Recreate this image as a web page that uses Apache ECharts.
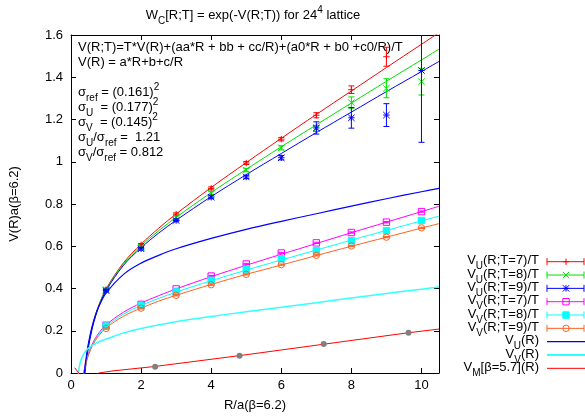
<!DOCTYPE html>
<html>
<head>
<meta charset="utf-8">
<script src="https://cdn.jsdelivr.net/npm/echarts@6/dist/echarts.min.js"></script>
<style>
  html, body { margin: 0; padding: 0; background: #fff; }
  #chart { width: 585px; height: 417px; }
</style>
</head>
<body>
<div id="chart"></div>
<script>
const FONT = '"Liberation Sans", Arial, Helvetica, sans-serif';

// ---- axis ticks ----
const xTicks = [0, 2, 4, 6, 8, 10];
const yTicks = [0, 0.2, 0.4, 0.6, 0.8, 1, 1.2, 1.4, 1.6];

// ---- measured potentials, R in units of a(beta=6.2) ----
const rValues = [1, 2, 3, 4, 5, 6, 7, 8, 9, 10];

const vuT7    = [0.395, 0.607, 0.752, 0.874, 0.994, 1.107, 1.220, 1.341, 1.497, null];
const vuT7Err = [0.006, 0.006, 0.006, 0.007, 0.007, 0.008, 0.012, 0.018, 0.045, 0];
const vuT8    = [0.395, 0.596, 0.737, 0.851, 0.961, 1.066, 1.157, 1.280, 1.348, 1.379];
const vuT8Err = [0.005, 0.006, 0.006, 0.007, 0.008, 0.010, 0.014, 0.027, 0.045, 0.063];
const vuT9    = [0.390, 0.588, 0.722, 0.832, 0.928, 1.019, 1.160, 1.208, 1.221, 1.432];
const vuT9Err = [0.006, 0.006, 0.006, 0.007, 0.008, 0.010, 0.029, 0.049, 0.054, 0.340];

const vvT7    = [0.226, 0.325, 0.398, 0.459, 0.516, 0.568, 0.616, 0.665, 0.714, 0.764];
const vvT8    = [0.222, 0.318, 0.384, 0.439, 0.491, 0.541, 0.580, 0.626, 0.673, 0.722];
const vvT9    = [0.211, 0.307, 0.368, 0.418, 0.467, 0.513, 0.557, 0.601, 0.643, 0.687];
const vvErr   = [0.003, 0.003, 0.003, 0.003, 0.003, 0.003, 0.003, 0.003, 0.003, 0.003];

// beta = 5.7 potential, rescaled to the beta = 6.2 lattice spacing
const rBeta57 = [2.40, 4.81, 7.21, 9.63];
const vBeta57 = [0.030, 0.082, 0.137, 0.190];

// ---- fitted curves ----
const fitR    = [0.3, 0.4, 0.45, 0.5, 0.6, 0.7, 0.8, 1, 1.5, 2, 2.5, 3, 4, 5, 6, 7, 8, 9, 10, 10.5];
const fitUT7  = [-0.166, 0.020, 0.083, 0.135, 0.216, 0.276, 0.324, 0.398, 0.522, 0.610, 0.685, 0.753, 0.878, 0.996, 1.111, 1.224, 1.335, 1.446, 1.556, 1.611];
const fitUT8  = [-0.176, 0.013, 0.078, 0.131, 0.213, 0.273, 0.321, 0.395, 0.517, 0.602, 0.673, 0.737, 0.854, 0.964, 1.071, 1.175, 1.278, 1.381, 1.482, 1.533];
const fitUT9  = [-0.188, 0.004, 0.070, 0.124, 0.206, 0.268, 0.317, 0.390, 0.510, 0.593, 0.662, 0.723, 0.835, 0.939, 1.039, 1.138, 1.235, 1.332, 1.427, 1.475];
const fitVT7  = [-0.060, 0.035, 0.068, 0.094, 0.135, 0.166, 0.191, 0.228, 0.288, 0.331, 0.366, 0.398, 0.456, 0.510, 0.562, 0.613, 0.664, 0.714, 0.764, 0.789];
const fitVT8  = [-0.070, 0.027, 0.060, 0.087, 0.128, 0.159, 0.184, 0.220, 0.279, 0.320, 0.353, 0.383, 0.437, 0.487, 0.535, 0.582, 0.629, 0.675, 0.720, 0.743];
const fitVT9  = [-0.066, 0.027, 0.059, 0.085, 0.125, 0.155, 0.178, 0.213, 0.269, 0.307, 0.340, 0.368, 0.419, 0.467, 0.511, 0.556, 0.600, 0.643, 0.686, 0.707];
const fitVU   = [-0.157, 0.030, 0.092, 0.143, 0.219, 0.275, 0.317, 0.378, 0.467, 0.520, 0.557, 0.588, 0.637, 0.680, 0.718, 0.754, 0.790, 0.825, 0.858, 0.874];

const fitVVR  = [0.18, 0.21, 0.25, 0.3, 0.4, 0.5, 0.6, 0.8, 1, 1.5, 2, 3, 4, 5, 6, 7, 8, 9, 10, 10.5];
const fitVV   = [-0.050, 0.000, 0.040, 0.068, 0.100, 0.118, 0.130, 0.148, 0.160, 0.190, 0.211, 0.243, 0.267, 0.290, 0.311, 0.333, 0.355, 0.376, 0.397, 0.407];

const fitVMR  = [0.105, 0.22, 0.4, 0.8, 1.2, 2.4, 4.8, 7.2, 9.6, 10.5];
const fitVM   = [0.025, 0.000, -0.030, 0.000, 0.010, 0.031, 0.082, 0.136, 0.190, 0.208];

// ---- labels ----
const titleText = '{n|W}{s|C}{n|[R;T] = exp(-V(R;T)) for 24}{p|4}{n| lattice}';
const noteLines = [
  '{n|V(R;T)=T*V(R)+(aa*R + bb + cc/R)+(a0*R + b0 +c0/R)/T}',
  '{n|V(R) = a*R+b+c/R}',
  '',
  '{n|σ}{s|ref}{n| = (0.161)}{p|2}',
  '{n|σ}{s|U}{n|  = (0.177)}{p|2}',
  '{n|σ}{s|V}{n|  = (0.145)}{p|2}',
  '{n|σ}{s|U}{n|/σ}{s|ref}{n| =  1.21}',
  '{n|σ}{s|V}{n|/σ}{s|ref}{n| = 0.812}'
];
const legendLabels = [
  '{n|V}{s|U}{n|(R;T=7)/T}',
  '{n|V}{s|U}{n|(R;T=8)/T}',
  '{n|V}{s|U}{n|(R;T=9)/T}',
  '{n|V}{s|V}{n|(R;T=7)/T}',
  '{n|V}{s|V}{n|(R;T=8)/T}',
  '{n|V}{s|V}{n|(R;T=9)/T}',
  '{n|V}{s|U}{n|(R)}',
  '{n|V}{s|V}{n|(R)}',
  '{n|V}{s|M}{n|[β=5.7](R)}'
];

// ---- colours ----
const RED = '#ff0000', GREEN = '#00e000', BLUE = '#0000ff';
const MAGENTA = '#ff00ff', CYAN = '#00ffff', ORANGE = '#ff6020', GREY = '#808080';
const CYAN_LINE = '#33ffff';

// rich-text styles: normal, subscript, superscript
const RICH = {
  n: { fontSize: 13, fontFamily: FONT, fill: '#000', height: 14, lineHeight: 14, verticalAlign: 'top' },
  s: { fontSize: 10, fontFamily: FONT, fill: '#000', height: 26, lineHeight: 14, verticalAlign: 'top' },
  p: { fontSize: 10, fontFamily: FONT, fill: '#000', height: 4,  lineHeight: 14, verticalAlign: 'top' }
};

function seg(x1, y1, x2, y2, color, w) {
  return { type: 'line', shape: { x1, y1, x2, y2 }, style: { stroke: color, lineWidth: w || 1, fill: null }, silent: true };
}

// gnuplot-style point markers
function markerShapes(kind, cx, cy, color) {
  const h = 3.2;
  switch (kind) {
    case 'plus':
      return [seg(cx - h, cy, cx + h, cy, color), seg(cx, cy - h, cx, cy + h, color)];
    case 'cross':
      return [seg(cx - h, cy - h, cx + h, cy + h, color), seg(cx - h, cy + h, cx + h, cy - h, color)];
    case 'star':
      return markerShapes('plus', cx, cy, color).concat(markerShapes('cross', cx, cy, color));
    case 'box':
      return [{ type: 'rect', shape: { x: cx - h, y: cy - h, width: 2 * h, height: 2 * h }, style: { stroke: color, fill: 'none', lineWidth: 1 }, silent: true }];
    case 'boxFilled':
      return [{ type: 'rect', shape: { x: cx - h, y: cy - h, width: 2 * h, height: 2 * h }, style: { stroke: color, fill: color, lineWidth: 1 }, silent: true }];
    case 'circle':
      return [{ type: 'circle', shape: { cx, cy, r: h }, style: { stroke: color, fill: 'none', lineWidth: 1 }, silent: true }];
    case 'dot':
      return [{ type: 'circle', shape: { cx, cy, r: 3 }, style: { fill: color, stroke: 'none' }, silent: true }];
  }
  return [];
}

// points with vertical error bars, placed through the axis scales
function pointSeries(xs, ys, errs, kind, color) {
  const data = [];
  xs.forEach((x, i) => { if (ys[i] != null) data.push([x, ys[i], errs ? errs[i] : 0]); });
  return {
    type: 'custom',
    data,
    clip: true,
    z: 5,
    silent: true,
    encode: { x: 0, y: 1 },
    renderItem(params, api) {
      const x = api.value(0), y = api.value(1), e = api.value(2);
      const c = api.coord([x, y]);
      const kids = [];
      if (e > 0) {
        const t = api.coord([x, y + e]), b = api.coord([x, y - e]);
        kids.push(seg(c[0], t[1], c[0], b[1], color),
                  seg(c[0] - 3, t[1], c[0] + 3, t[1], color),
                  seg(c[0] - 3, b[1], c[0] + 3, b[1], color));
      }
      return { type: 'group', children: kids.concat(markerShapes(kind, c[0], c[1], color)) };
    }
  };
}

function curve(xs, ys, color, width, smooth) {
  return {
    type: 'line',
    data: xs.map((x, i) => [x, ys[i]]),
    showSymbol: false,
    symbol: 'none',
    smooth: smooth ? 0.35 : false,
    clip: true,
    silent: true,
    z: 3,
    lineStyle: { color, width }
  };
}

// legend drawn gnuplot style: label on the left, sample on the right
const legendRows = [
  { marker: 'plus', color: RED, bars: true },
  { marker: 'cross', color: GREEN, bars: true },
  { marker: 'star', color: BLUE, bars: true },
  { marker: 'box', color: MAGENTA, bars: true },
  { marker: 'boxFilled', color: CYAN, bars: true },
  { marker: 'circle', color: ORANGE, bars: true },
  { color: BLUE, width: 1.2 },
  { color: CYAN_LINE, width: 2 },
  { color: RED, width: 1 }
];

function buildGraphics() {
  const els = [];
  els.push({ type: 'text', x: 253, y: 8, silent: true,
    style: { text: titleText, rich: RICH, align: 'center', verticalAlign: 'top', fill: '#000', fontSize: 13, fontFamily: FONT } });
  noteLines.forEach((t, i) => {
    if (!t) return;
    els.push({ type: 'text', x: 78, y: 40 + 15 * i, silent: true,
      style: { text: t, rich: RICH, align: 'left', verticalAlign: 'top', fill: '#000', fontSize: 13, fontFamily: FONT } });
  });
  const lx1 = 547, lx2 = 584, lxm = 566, textRight = 539;
  legendRows.forEach((row, i) => {
    const cy = 261.7 + 13.33 * i;
    els.push({ type: 'text', x: textRight, y: cy - 8, silent: true,
      style: { text: legendLabels[i], rich: RICH, align: 'right', verticalAlign: 'top', fill: '#000', fontSize: 13, fontFamily: FONT } });
    if (row.bars) {
      els.push(seg(lx1, cy, lx2, cy, row.color));
      els.push(seg(lx1, cy - 3.5, lx1, cy + 3.5, row.color));
      els.push(seg(lx2, cy - 3.5, lx2, cy + 3.5, row.color));
      markerShapes(row.marker, lxm, cy, row.color).forEach(s => els.push(s));
    } else {
      els.push(seg(lx1, cy, lx2 + 1, cy, row.color, row.width));
    }
  });
  return els;
}

const axisLine = { show: true, onZero: false, lineStyle: { color: '#000', width: 1 } };
const labelFont = { color: '#000', fontSize: 13, fontFamily: FONT };

const option = {
  animation: false,
  backgroundColor: '#fff',
  grid: { left: 71, right: 146, top: 35, bottom: 42, containLabel: false },
  xAxis: [
    {
      type: 'value', min: 0, max: 10.5, interval: 2, position: 'bottom',
      axisLine, splitLine: { show: false },
      axisTick: { show: true, inside: true, length: 5, customValues: xTicks, lineStyle: { color: '#000' } },
      axisLabel: Object.assign({ margin: 6, customValues: xTicks,
        formatter: v => (xTicks.indexOf(v) >= 0 ? String(v) : '') }, labelFont),
      name: 'R/a(β=6.2)', nameLocation: 'middle', nameGap: 26,
      nameTextStyle: labelFont
    },
    {
      type: 'value', min: 0, max: 10.5, interval: 2, position: 'top',
      axisLine, splitLine: { show: false },
      axisTick: { show: true, inside: true, length: 5, customValues: xTicks, lineStyle: { color: '#000' } },
      axisLabel: { show: false }
    }
  ],
  yAxis: [
    {
      type: 'value', min: 0, max: 1.6, interval: 0.2, position: 'left',
      axisLine, splitLine: { show: false },
      axisTick: { show: true, inside: true, length: 5, customValues: yTicks, lineStyle: { color: '#000' } },
      axisLabel: Object.assign({ margin: 8, customValues: yTicks }, labelFont),
      name: 'V(R)a(β=6.2)', nameLocation: 'middle', nameGap: 50, nameRotate: 90,
      nameTextStyle: labelFont
    },
    {
      type: 'value', min: 0, max: 1.6, interval: 0.2, position: 'right',
      axisLine, splitLine: { show: false },
      axisTick: { show: true, inside: true, length: 5, customValues: yTicks, lineStyle: { color: '#000' } },
      axisLabel: { show: false }
    }
  ],
  series: [
    curve(fitR, fitUT7, RED, 1, true),
    curve(fitR, fitUT8, GREEN, 1, true),
    curve(fitR, fitUT9, BLUE, 1, true),
    curve(fitR, fitVT7, MAGENTA, 1, true),
    curve(fitR, fitVT8, CYAN, 1, true),
    curve(fitR, fitVT9, ORANGE, 1, true),
    curve(fitR, fitVU, BLUE, 1.2, true),
    curve(fitVVR, fitVV, CYAN_LINE, 1.5, true),
    curve(fitVMR, fitVM, RED, 1, false),
    pointSeries(rValues, vuT7, vuT7Err, 'plus', RED),
    pointSeries(rValues, vuT8, vuT8Err, 'cross', GREEN),
    pointSeries(rValues, vuT9, vuT9Err, 'star', BLUE),
    pointSeries(rValues, vvT7, vvErr, 'box', MAGENTA),
    pointSeries(rValues, vvT8, vvErr, 'boxFilled', CYAN),
    pointSeries(rValues, vvT9, vvErr, 'circle', ORANGE),
    pointSeries(rBeta57, vBeta57, null, 'dot', GREY)
  ],
  graphic: { elements: buildGraphics() }
};

const chart = echarts.init(document.getElementById('chart'));
chart.setOption(option);
</script>
</body>
</html>
